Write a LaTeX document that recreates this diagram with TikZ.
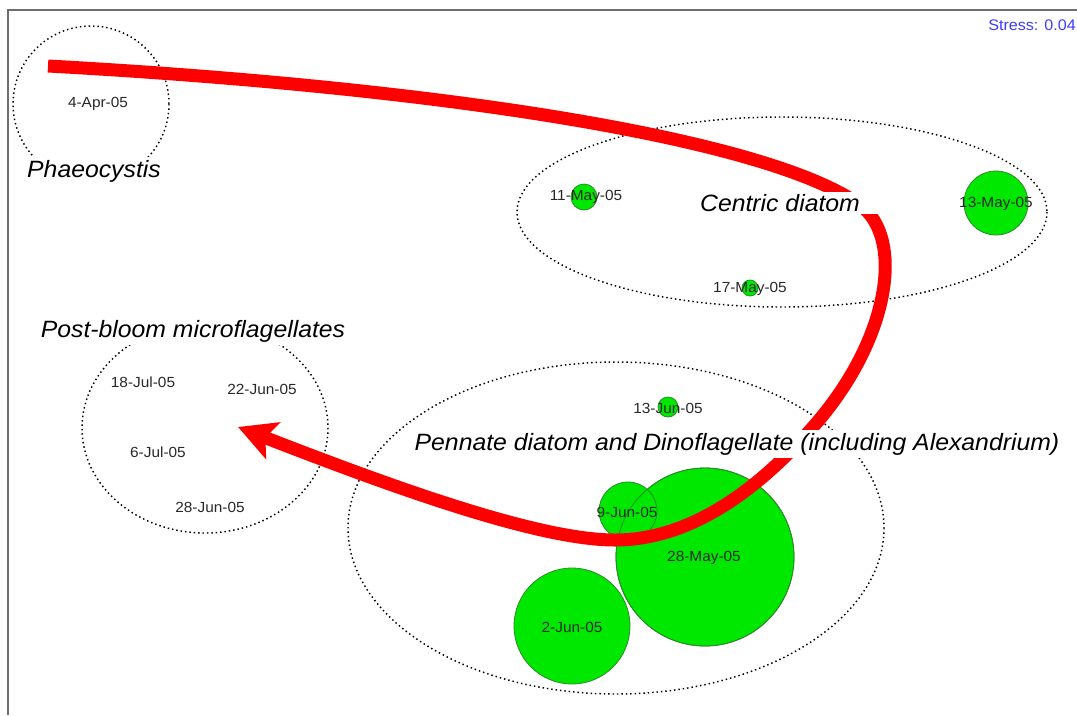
\documentclass[tikz,border=0pt]{standalone}
\usepackage{fontspec}
\setmainfont{Liberation Sans}[FakeStretch=1.05]
\usetikzlibrary{arrows.meta}
\definecolor{bubgreen}{RGB}{0,232,0}
\definecolor{bubedge}{RGB}{40,140,40}
\definecolor{stressblue}{RGB}{60,60,255}
\definecolor{framegray}{RGB}{110,110,110}
\definecolor{datetext}{RGB}{40,40,40}
\begin{document}
\begin{tikzpicture}[x=0.75pt,y=-0.75pt,
  frame/.style={draw=framegray, line width=1.5pt},
  group/.style={draw=black, line width=1.1pt, dash pattern=on 1.1pt off 2.2pt},
  bub/.style={circle, inner sep=0pt, fill=bubgreen, draw=bubedge, line width=0.6pt},
  bubline/.style={draw=bubedge, line width=0.6pt},
  date/.style={font=\fontsize{11}{13}\selectfont, text=datetext, inner sep=1pt},
  lbl/.style={font=\fontsize{17.7}{20}\selectfont\itshape, fill=white, inner sep=2pt},
  trail/.style={draw=red, line width=9.75pt, -{Stealth[length=28pt,width=29pt,inset=6pt]}}
]
\useasboundingbox (0,0) rectangle (1077,715);
\fill[white] (0,0) rectangle (1077,715);
% frame
\draw[frame] (8,715) -- (8,10) -- (1077,10);
\node[anchor=east, inner sep=0pt, font=\fontsize{11.5}{14}\selectfont, text=stressblue] (stress) at (1076,25) {Stress: 0.04};
% group outlines
\draw[group] (91,104) circle[radius=78];
\draw[group] (782,212) circle[x radius=265, y radius=95];
\draw[group] (205,428) circle[x radius=123, y radius=105];
\draw[group] (616,528) circle[x radius=268, y radius=166];
% bubbles
\node[bub, minimum size=19.5pt] (b11may) at (584,197) {};
\node[bub, minimum size=48pt] (b13may) at (996,203) {};
\node[bub, minimum size=12pt] (b17may) at (750,288) {};
\node[bub, minimum size=15pt] (b13jun) at (668,407) {};
\node[bub, minimum size=133.5pt] (b28may) at (705,557) {};
\node[bub, minimum size=43.5pt] (b9jun) at (628,511) {};
\node[bub, minimum size=87pt] (b2jun) at (572,626) {};
\draw[bubline] (b28may.center) circle[radius=89];
% dates
\node[date] (d4apr) at (98,104) {4-Apr-05};
\node[date] (d11may) at (586,197) {11-May-05};
\node[date] (d13may) at (996,204) {13-May-05};
\node[date] (d17may) at (750,289) {17-May-05};
\node[date] (d13jun) at (668,408) {13-Jun-05};
\node[date] (d9jun) at (627,512) {9-Jun-05};
\node[date] (d28may) at (704,558) {28-May-05};
\node[date] (d2jun) at (572,627) {2-Jun-05};
\node[date] (d18jul) at (143,382) {18-Jul-05};
\node[date] (d22jun) at (262,389) {22-Jun-05};
\node[date] (d6jul) at (158,452) {6-Jul-05};
\node[date] (d28jun) at (210,507) {28-Jun-05};
% trajectory arrow
\coordinate (tstart) at (48,66);
\coordinate (tend) at (238,427);
\draw[trail] (tstart) .. controls (450,88) and (770,140) .. (860,205)
  .. controls (905,238) and (890,340) .. (813,427)
  .. controls (770,476) and (700,540) .. (615,540)
  .. controls (540,540) and (400,490) .. (tend);
% labels
\node[lbl] (lphaeo) at (94,171) {Phaeocystis};
\node[lbl, minimum width=160pt] (lcentric) at (780,203) {Centric diatom};
\node[lbl] (lpost) at (193,331) {Post-bloom microflagellates};
\node[lbl] (lpennate) at (737,444) {Pennate diatom and Dinoflagellate (including Alexandrium)};
\end{tikzpicture}
\end{document}
